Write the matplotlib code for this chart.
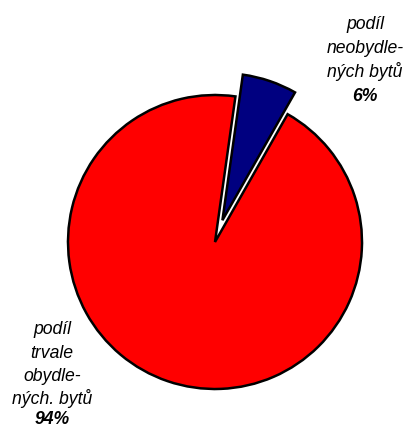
import matplotlib
matplotlib.use("Agg")
import matplotlib.pyplot as plt

# data
shares = [6, 94]
colors = ["#000080", "#FF0000"]
label_vacant = ["podíl", "neobydle-", "ných bytů"]
label_occupied = ["podíl", "trvale", "obydle-", "ných. bytů"]
pct_vacant = "6%"
pct_occupied = "94%"

plt.rcParams["font.family"] = ["Liberation Sans", "DejaVu Sans"]

fig = plt.figure(figsize=(4.07, 4.30), dpi=100)
ax = fig.add_axes([0, 0, 1, 1])

# explode is in data units here (not scaled by radius)
ax.pie(shares, colors=colors, startangle=82, counterclock=False,
       explode=[23, 0], center=(215, 188), radius=147,
       wedgeprops=dict(edgecolor="black", linewidth=1.8, joinstyle="miter"))

ax.set_xlim(0, 407)
ax.set_ylim(0, 430)
ax.set_aspect("equal")
ax.axis("off")

fs = 12.7
y = 430 - 29
for line in label_vacant:
    ax.text(365, y, line, ha="center", va="baseline", fontsize=fs, style="italic")
    y -= 24
ax.text(365, y, pct_vacant, ha="center", va="baseline", fontsize=fs,
        style="italic", weight="bold")

y = 430 - 334
for line in label_occupied:
    ax.text(52, y, line, ha="center", va="baseline", fontsize=fs, style="italic")
    y -= 23.5
ax.text(52, 6, pct_occupied, ha="center", va="baseline", fontsize=fs,
        style="italic", weight="bold")

fig.savefig("out.png", dpi=100)
